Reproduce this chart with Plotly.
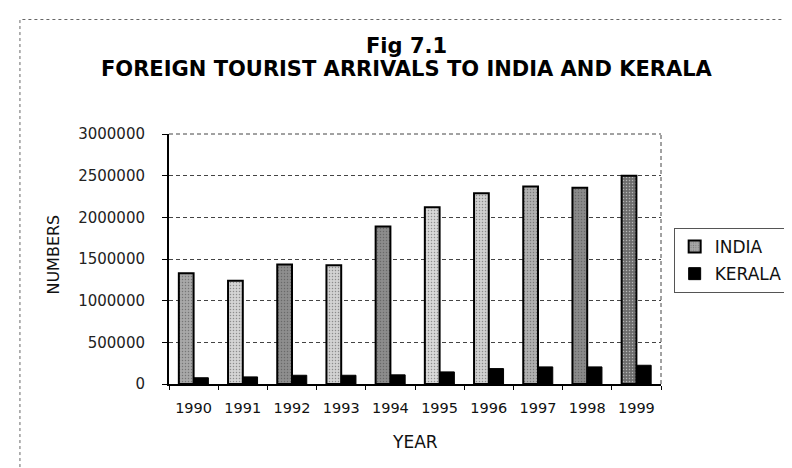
import plotly.graph_objects as go

years = ["1990", "1991", "1992", "1993", "1994", "1995", "1996", "1997", "1998", "1999"]
india = [1330000, 1240000, 1435000, 1425000, 1890000, 2120000, 2290000, 2370000, 2355000, 2500000]
kerala = [75000, 85000, 105000, 105000, 110000, 145000, 185000, 205000, 205000, 225000]
y_ticks = [0, 500000, 1000000, 1500000, 2000000, 2500000, 3000000]

# scan-like shading of the India bars
india_shades = ["#a8a8a8", "#d4d4d4", "#8e8e8e", "#d2d2d2", "#8c8c8c",
                "#d8d8d8", "#d0d0d0", "#b0b0b0", "#8a8a8a", "#6c6c6c"]

W, H = 792, 468
L, R, T, B = 161, 666, 126, 376
pw, ph = R - L, B - T


def px(x):
    return (x - L) / pw


def py(y):
    return (B - y) / ph


fig = go.Figure()
fig.add_trace(go.Bar(
    x=years, y=india, name="INDIA", legendgroup="a",
    marker=dict(color=india_shades, line=dict(color="#000000", width=2),
                pattern=dict(shape=".", fillmode="overlay", fgcolor="#444444",
                             size=3, solidity=0.2)),
))
fig.add_trace(go.Bar(
    x=years, y=kerala, name="KERALA", legendgroup="b",
    marker=dict(color="#000000", line=dict(color="#000000", width=1)),
))

font = "DejaVu Sans"

fig.update_layout(
    width=W, height=H,
    margin=dict(l=L, r=W - R, t=T, b=H - B, pad=0),
    paper_bgcolor="white", plot_bgcolor="white",
    barmode="group", bargap=0.4, bargroupgap=0.0,
    font=dict(family=font, color="#111111"),
    showlegend=True,
    legend=dict(
        x=px(679), y=py(220), xanchor="left", yanchor="top",
        font=dict(family=font, size=17, color="#111111"),
        bordercolor="#555555", borderwidth=1, bgcolor="white",
        traceorder="grouped", tracegroupgap=2,
    ),
    xaxis=dict(
        type="category", showline=True, linecolor="#000000", linewidth=1.5,
        ticks="outside", tickson="boundaries", ticklen=4, tickcolor="#000000",
        tickfont=dict(family=font, size=14.5, color="#111111"),
        ticklabelstandoff=10,
        showgrid=False, zeroline=False,
    ),
    yaxis=dict(
        range=[0, 3000000], tickvals=y_ticks, tickformat="d",
        showline=True, linecolor="#000000", linewidth=2,
        ticks="outside", ticklen=5, tickcolor="#000000",
        tickfont=dict(family=font, size=15, color="#222222"),
        ticklabelstandoff=14,
        showgrid=True, gridcolor="#444444", gridwidth=1, griddash="4px,3px",
        zeroline=False,
    ),
    shapes=[
        dict(type="line", xref="paper", yref="paper", x0=0, x1=1, y0=1, y1=1,
             line=dict(color="#444444", width=1, dash="4px,3px")),
        dict(type="line", xref="paper", yref="paper", x0=1, x1=1, y0=0, y1=1,
             line=dict(color="#444444", width=1, dash="4px,3px")),
        dict(type="rect", xref="paper", yref="paper",
             x0=px(8), x1=px(805), y0=py(480), y1=py(11.5),
             line=dict(color="#666666", width=1, dash="dot")),
    ],
    annotations=[
        dict(text="<b>Fig 7.1</b>", xref="paper", yref="paper",
             x=px(405), y=py(38), xanchor="center", yanchor="middle",
             showarrow=False, font=dict(family=font, size=21, color="#000000")),
        dict(text="<b>FOREIGN TOURIST ARRIVALS TO INDIA AND KERALA</b>",
             xref="paper", yref="paper",
             x=px(405), y=py(61), xanchor="center", yanchor="middle",
             showarrow=False, font=dict(family=font, size=21, color="#000000")),
        dict(text="YEAR", xref="paper", yref="paper",
             x=px(414), y=py(434), xanchor="center", yanchor="middle",
             showarrow=False, font=dict(family=font, size=17, color="#111111")),
        dict(text="NUMBERS", xref="paper", yref="paper", textangle=-90,
             x=px(42), y=py(246.5), xanchor="center", yanchor="middle",
             showarrow=False, font=dict(family=font, size=16, color="#111111")),
    ],
)

fig.write_html("out.html")
